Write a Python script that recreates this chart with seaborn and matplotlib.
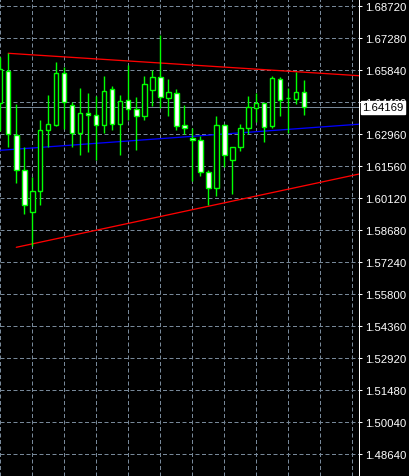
import numpy as np
import pandas as pd
import matplotlib
matplotlib.use("Agg")
import matplotlib.pyplot as plt
import seaborn as sns

# ---- data ----
bar_index = list(range(39))
opens = [1.64369, 1.65822, 1.62929, 1.61340, 1.59477, 1.60395, 1.63140, 1.63392, 1.65705, 1.64265,
         1.63005, 1.63905, 1.63842, 1.63365, 1.65012, 1.63410, 1.64490, 1.64085, 1.63770, 1.64967,
         1.65525, 1.64607, 1.64805, 1.63365, 1.62794, 1.62690, 1.61250, 1.60530, 1.63365, 1.61790,
         1.62375, 1.63230, 1.64157, 1.64369, 1.63347, 1.65435, 1.64594, 1.64562, 1.64850]
highs = [1.66439, 1.66605, 1.64310, 1.62402, 1.61039, 1.63604, 1.64742, 1.66214, 1.66002, 1.64400,
         1.65030, 1.64819, 1.64697, 1.65584, 1.65147, 1.64729, 1.66079, 1.64625, 1.65584, 1.65840,
         1.67442, 1.65449, 1.64999, 1.64279, 1.63244, 1.62897, 1.61354, 1.63770, 1.63437, 1.62375,
         1.63424, 1.64670, 1.64819, 1.64369, 1.65584, 1.65539, 1.65057, 1.65777, 1.65404]
lows = [1.63109, 1.62375, 1.60769, 1.59360, 1.57947, 1.59792, 1.62389, 1.63347, 1.63199, 1.62375,
        1.62042, 1.62150, 1.61804, 1.63005, 1.63154, 1.62042, 1.63617, 1.62267, 1.63617, 1.64247,
        1.64144, 1.63770, 1.63167, 1.62974, 1.60872, 1.61097, 1.59779, 1.60197, 1.61475, 1.60287,
        1.62222, 1.62960, 1.63527, 1.62600, 1.63230, 1.63797, 1.63032, 1.64310, 1.63842]
closes = [1.65899, 1.62960, 1.61340, 1.59765, 1.60395, 1.63140, 1.63410, 1.65705, 1.64400, 1.63005,
          1.63905, 1.63842, 1.63365, 1.64895, 1.63410, 1.64472, 1.64085, 1.63770, 1.65210, 1.65525,
          1.64625, 1.64850, 1.63347, 1.63257, 1.62704, 1.61250, 1.60530, 1.63365, 1.62042, 1.62375,
          1.63230, 1.64175, 1.64369, 1.63302, 1.65494, 1.64504, 1.64594, 1.64850, 1.64169]

# trend lines: two anchor points each (bar index, price)
upper_idx = [1, 37]
upper_price = [1.66605, 1.65777]
lower_idx = [2, 38]
lower_price = [1.57875, 1.60645]
blue_idx = [0, 38]
blue_price = [1.62240, 1.63235]

current_price = 1.64169
current_label = "1.64169"

tick_labels = ["1.68720", "1.67280", "1.65840", "1.64400", "1.62960", "1.61560", "1.60120",
               "1.58680", "1.57240", "1.55800", "1.54360", "1.52920", "1.51480", "1.50040", "1.48640"]

# ---- styling ----
sns.set_theme(style="dark")
plt.rcParams["font.family"] = ["Liberation Sans", "DejaVu Sans"]

W, H = 410, 477
fig = plt.figure(figsize=(W / 100, H / 100), dpi=100, facecolor="black")
ax = fig.add_axes([0, 0, 359 / W, 1], facecolor="black")

PX = 0.72  # one pixel in points
LIME = "#00FF00"
GRID = "#778899"

x_left, x_right = -0.0375, 44.8375
y_bottom, y_top = 1.475835, 1.690485
ax.set_xlim(x_left, x_right)
ax.set_ylim(y_bottom, y_top)

# grid
tick_pos = 1.68720 - 0.0144 * np.arange(len(tick_labels))
ax.set_yticks(tick_pos)
ax.set_yticklabels(tick_labels)
ax.set_xticks(np.arange(0, 45, 4))
ax.set_xticklabels([])
ax.tick_params(axis="x", length=0)
ax.grid(True, color=GRID, linewidth=PX, linestyle=(0, (4, 2.5)), zorder=0)

# current price line
ax.axhline(current_price, color=GRID, linewidth=PX, zorder=1)

# trend lines (extend to right edge)
def extend(idx, price):
    slope = (price[1] - price[0]) / (idx[1] - idx[0])
    return [idx[0], x_right], [price[0], price[0] + slope * (x_right - idx[0])]

for idx, price, col in [(blue_idx, blue_price, "#0000FF"),
                        (upper_idx, upper_price, "#FF0000"),
                        (lower_idx, lower_price, "#FF0000")]:
    xs, ys = extend(idx, price)
    if idx[0] == 0:
        xs[0] = x_left
        slope = (price[1] - price[0]) / (idx[1] - idx[0])
        ys[0] = price[0] + slope * (x_left - idx[0])
    sns.lineplot(x=xs, y=ys, ax=ax, color=col, linewidth=1.3 * PX, zorder=2, legend=False)

# candles
df = pd.DataFrame({"i": bar_index, "o": opens, "h": highs, "l": lows, "c": closes})
ax.vlines(df["i"], df["l"], df["h"], color=LIME, linewidth=1.4 * PX, zorder=3)
bull = df["c"] >= df["o"]
bottoms = np.minimum(df["o"], df["c"])
heights = np.abs(df["c"] - df["o"])
ax.bar(df["i"][bull], heights[bull], bottom=bottoms[bull], width=0.55,
       facecolor="black", edgecolor=LIME, linewidth=1.4 * PX, zorder=4)
ax.bar(df["i"][~bull], heights[~bull], bottom=bottoms[~bull], width=0.55,
       facecolor="white", edgecolor=LIME, linewidth=1.4 * PX, zorder=4)

# axes / ticks
for s in ["top", "left", "bottom"]:
    ax.spines[s].set_visible(False)
ax.spines["right"].set_color("white")
ax.spines["right"].set_linewidth(PX)
ax.yaxis.tick_right()
ax.tick_params(axis="y", colors="white", length=3 * PX, width=PX, pad=2, labelsize=8.2,
               labelcolor="white")

# current price label box
ax.annotate(current_label, xy=(1.0, current_price), xycoords=("axes fraction", "data"),
            xytext=(3, 0), textcoords="offset pixels", ha="left", va="center",
            fontsize=8.2, color="black", annotation_clip=False, zorder=10,
            bbox=dict(boxstyle="square,pad=0.1", facecolor="white", edgecolor="white"))

fig.savefig("out.png", dpi=100, facecolor="black")
